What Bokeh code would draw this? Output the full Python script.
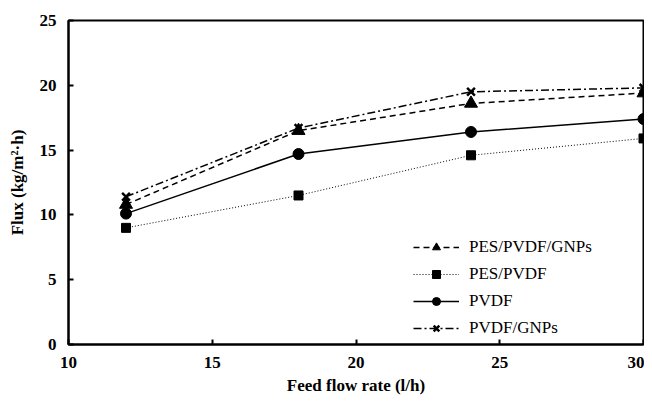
from bokeh.plotting import figure
from bokeh.models import Legend, LegendItem, FixedTicker, Range1d
from bokeh.embed import file_html
from bokeh.resources import INLINE

flow = [12, 18, 24, 30]
pes_pvdf_gnps = [10.8, 16.5, 18.6, 19.4]
pes_pvdf = [9.0, 11.5, 14.6, 15.9]
pvdf = [10.1, 14.7, 16.4, 17.4]
pvdf_gnps = [11.4, 16.7, 19.5, 19.8]
x_ticks = [10, 15, 20, 25, 30]
y_ticks = [0, 5, 10, 15, 20, 25]

p = figure(width=644, height=397, output_backend="svg", toolbar_location=None,
           x_range=Range1d(10, 30), y_range=Range1d(0, 25),
           min_border_left=68, min_border_right=1, min_border_top=20, min_border_bottom=47)
p.xgrid.visible = False
p.ygrid.visible = False
p.outline_line_color = "black"
p.outline_line_width = 2
p.background_fill_color = "white"
p.border_fill_color = "white"

FONT = "Liberation Serif"
for ax in (p.xaxis[0], p.yaxis[0]):
    ax.axis_line_width = 2
    ax.axis_line_color = "black"
    ax.major_tick_in = 5
    ax.major_tick_out = 0
    ax.major_tick_line_width = 2
    ax.minor_tick_line_color = None
    ax.major_label_text_font = FONT
    ax.major_label_text_font_style = "bold"
    ax.major_label_text_font_size = "17px"
    ax.major_label_text_color = "black"
    ax.axis_label_text_font = FONT
    ax.axis_label_text_font_style = "bold"
    ax.axis_label_text_font_size = "17px"
    ax.axis_label_text_color = "black"

p.xaxis.ticker = FixedTicker(ticks=x_ticks)
p.yaxis.ticker = FixedTicker(ticks=y_ticks)
p.xaxis.axis_label = "Feed flow rate (l/h)"
p.yaxis.axis_label = "Flux (kg/m²·h)"
p.xaxis.major_label_standoff = 12
p.yaxis.major_label_standoff = 12
p.xaxis.axis_label_standoff = 5
p.yaxis.axis_label_standoff = 10

l1 = p.line(flow, pes_pvdf_gnps, line_color="black", line_width=1.5, line_dash="6 4")
m1 = p.scatter(flow, pes_pvdf_gnps, marker="triangle", size=13, color="black")
l2 = p.line(flow, pes_pvdf, line_color="black", line_width=1, line_dash="1 2")
m2 = p.scatter(flow, pes_pvdf, marker="square", size=9, color="black")
l3 = p.line(flow, pvdf, line_color="black", line_width=1.5)
m3 = p.scatter(flow, pvdf, marker="circle", size=11, color="black")
l4 = p.line(flow, pvdf_gnps, line_color="black", line_width=1.5, line_dash="8 3 2 3")
m4 = p.scatter(flow, pvdf_gnps, marker="x", size=11, line_color="black", line_width=2.5)

legend = Legend(items=[
    LegendItem(label="PES/PVDF/GNPs", renderers=[l1, m1]),
    LegendItem(label="PES/PVDF", renderers=[l2, m2]),
    LegendItem(label="PVDF", renderers=[l3, m3]),
    LegendItem(label="PVDF/GNPs", renderers=[l4, m4]),
], location=(345, 6))
legend.border_line_color = None
legend.background_fill_alpha = 0
legend.padding = 0
legend.margin = 0
legend.spacing = 7
legend.glyph_height = 20
legend.glyph_width = 46
legend.label_standoff = 10
legend.label_text_font = FONT
legend.label_text_font_size = "17px"
legend.label_text_color = "black"
p.add_layout(legend, "center")

open("out.html", "w").write(file_html(p, INLINE))
